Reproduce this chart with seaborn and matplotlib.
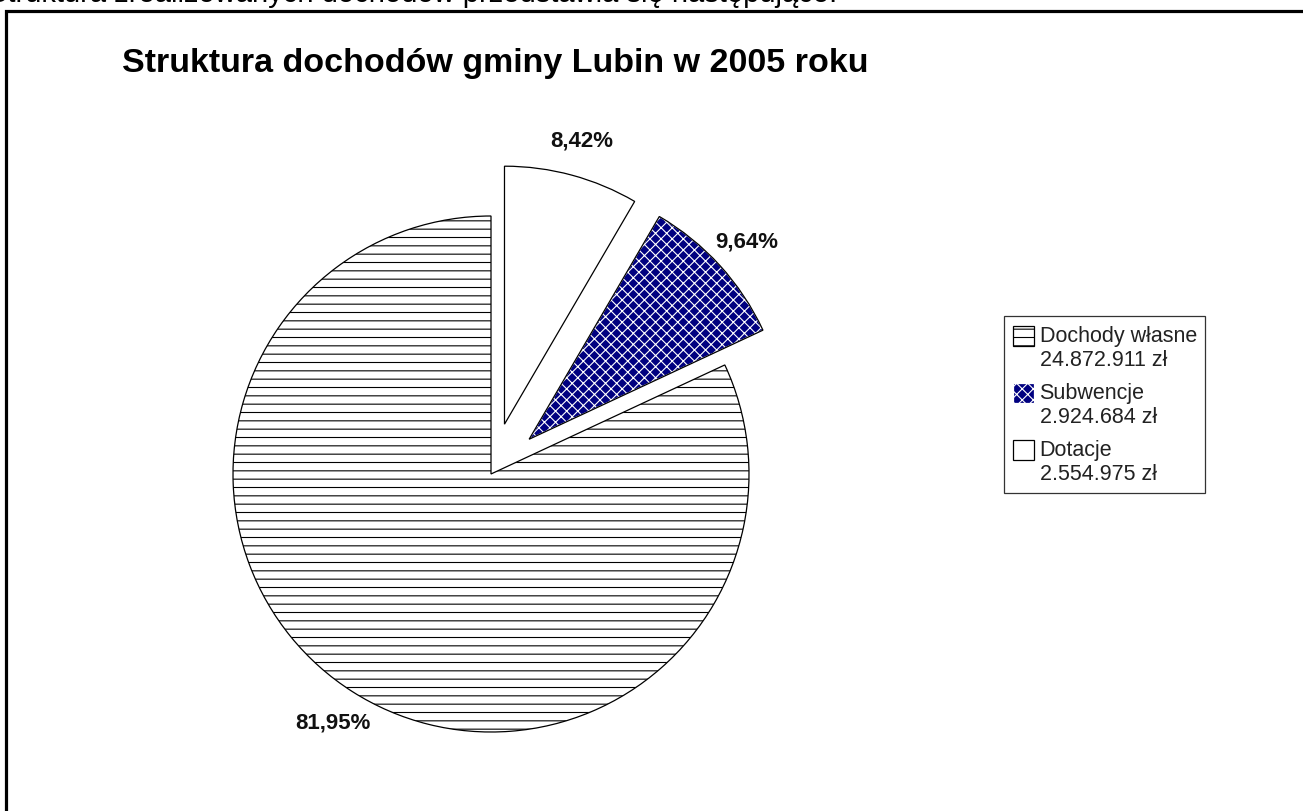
import matplotlib
matplotlib.use("Agg")
import matplotlib.pyplot as plt
import seaborn as sns
from matplotlib.patches import Wedge, Rectangle
from matplotlib.legend_handler import HandlerPatch

# data
categories = ["Dochody własne", "Subwencje", "Dotacje"]
values = [24872911, 2924684, 2554975]
explode = [0.0, 0.2, 0.2]
face_colors = ["white", "#000080", "white"]
hatches = ["--", "xxx", ""]
title = "Struktura dochodów gminy Lubin w 2005 roku"
intro = "Struktura zrealizowanych dochodów przedstawia się następująco:"

sns.set_style("white")
plt.rcParams["font.family"] = ["Liberation Sans", "DejaVu Sans"]
plt.rcParams["hatch.linewidth"] = 0.8

W, H = 1303, 812
fig = plt.figure(figsize=(W / 100, H / 100), dpi=100)

# pie axes: center (491, 475) px, radius 258 px
cx, cy, r = 491, H - 475, 258
span = 1.5
ax = fig.add_axes([(cx - r * span) / W, (cy - r * span) / H,
                   2 * r * span / W, 2 * r * span / H])


def fmt_pct(p):
    return f"{p:.2f}%".replace(".", ",")


wedges, texts, autotexts = ax.pie(
    values, explode=explode, startangle=90, counterclock=True,
    colors=face_colors, autopct=fmt_pct, pctdistance=1.14,
    wedgeprops=dict(edgecolor="black", linewidth=0.9),
    textprops=dict(fontsize=16, fontweight="bold", color="#111111"))

for w, h, fc in zip(wedges, hatches, face_colors):
    w.set_hatch(h)
    if fc != "white":
        # white hatch on navy, then a black outline on top
        w.set_edgecolor("white")
        ax.add_patch(Wedge(w.center, w.r, w.theta1, w.theta2, fill=False,
                           edgecolor="black", linewidth=0.9, zorder=w.get_zorder() + 0.1))

ax.set_xlim(-span, span)
ax.set_ylim(-span, span)
ax.axis("off")


def top_box(legend, orig_handle, xdescent, ydescent, width, height, fontsize):
    # put the swatch next to the first line of a two-line label
    return Rectangle((-xdescent, -ydescent + 0.55 * fontsize), width, height)


labels = [f"{c}\n{v:,} zł".replace(",", ".") for c, v in zip(categories, values)]
leg = fig.legend(wedges, labels, loc="upper left",
                 bbox_to_anchor=(1004 / W, 1 - 317 / H),
                 fontsize=15.5, frameon=True, fancybox=False, shadow=False,
                 handlelength=1.0, handleheight=1.0, handletextpad=0.25,
                 borderpad=0.4, labelspacing=0.55, borderaxespad=0,
                 handler_map={Wedge: HandlerPatch(patch_func=top_box)})
leg.get_frame().set_edgecolor("black")
leg.get_frame().set_linewidth(0.9)
for t in leg.get_texts():
    t.set_color("#222222")
    t.set_linespacing(1.2)

fig.text(495 / W, 1 - 72 / H, title, ha="center", va="baseline",
         fontsize=24.5, fontweight="bold", color="black")

# cut-off document line above the chart frame
fig.text(-12 / W, 1 - 2 / H, intro, ha="left", va="baseline", fontsize=21,
         color="black")

# chart frame (runs off the right and bottom edges)
fig.patches.append(Rectangle((5.5 / W, -0.1), 1.2, 1 - 11.5 / H + 0.1,
                             transform=fig.transFigure, fill=False,
                             edgecolor="black", linewidth=2.3, zorder=5))
fig.savefig("out.png", dpi=100, facecolor="white")
